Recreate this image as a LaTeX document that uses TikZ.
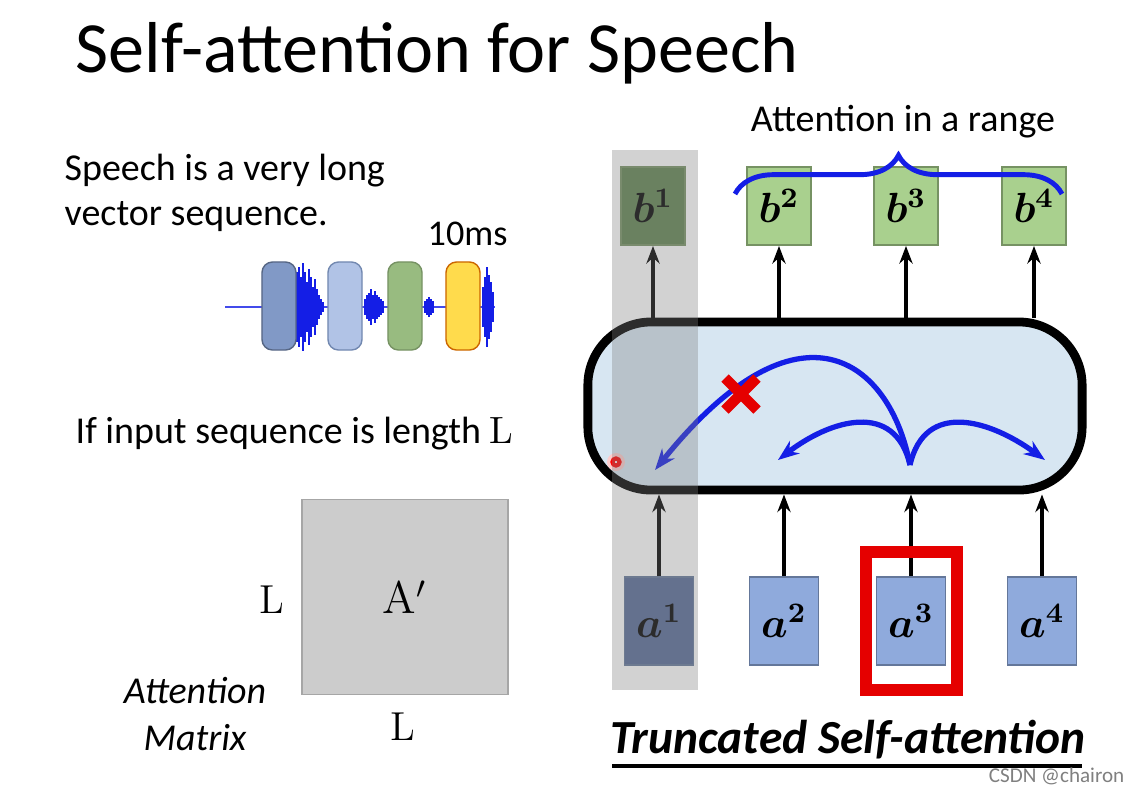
\documentclass[tikz,border=0pt]{standalone}
\usepackage{fontspec}
\setmainfont{Carlito}
\newfontfamily\serifm{Latin Modern Roman}
\usetikzlibrary{decorations.pathreplacing,arrows.meta}
\definecolor{bgreen}{RGB}{169,208,142}
\definecolor{bgreenD}{RGB}{95,130,80}
\definecolor{ablue}{RGB}{143,170,220}
\definecolor{ablueD}{RGB}{85,105,150}
\definecolor{boxblue}{RGB}{215,230,242}
\definecolor{curve}{RGB}{20,30,230}
\tikzset{
 bbox/.style={draw=bgreen!70!black,fill=bgreen,line width=0.5pt},
 abox/.style={draw=ablue!70!black,fill=ablue,line width=0.5pt},
 up/.style={-{Stealth[length=5pt]},line width=1.1pt},
 cv/.style={curve,line width=1.5pt,-{Stealth[length=6pt]}},
 lbl/.style={font=\fontsize{11.5}{12}\selectfont\boldmath},
 txt/.style={font=\fontsize{10.8}{12}\selectfont},
}
\begin{document}
\begin{tikzpicture}[x=0.01cm,y=-0.01cm]
\useasboundingbox (0,0) rectangle (1138,793);
\fill[white] (0,0) rectangle (1138,793);
\node[anchor=base west,font=\fontsize{20.5}{21}\selectfont,inner sep=0] (title) at (75,72) {Self-attention for Speech};
\node[anchor=base west,txt,inner sep=0] (sp) at (64,180) {Speech is a very long};
\node[anchor=base west,txt,inner sep=0] (sp2) at (64,225) {vector sequence.};
\node[anchor=base west,font=\fontsize{10.3}{11}\selectfont,inner sep=0] (ms) at (427,245) {10ms};
% waveform
\draw[curve!80,line width=0.8pt] (225,307) -- (495,307);
\foreach \x/\h in {297/35,299/40,301/30,303/44,305/35,307/25,309/38,311/30,313/20,315/28,317/18,319/12,321/8,323/5,365/8,367/12,369/14,371/18,373/12,375/16,377/12,379/10,381/8,383/6,425/6,427/8,429/10,431/8,433/6,483/20,485/30,487/40,489/32,491/25,493/15} {
  \draw[curve,line width=0.7pt] (\x,307-\h) -- (\x,307+\h);
}
\node[draw=ablue!60!black,fill=ablue!90!black,rounded corners=3pt,minimum width=0.34cm,minimum height=0.88cm,inner sep=0] (w1) at (279,306) {};
\node[draw=ablue!80!black,fill=ablue!70,rounded corners=3pt,minimum width=0.34cm,minimum height=0.88cm,inner sep=0] (w2) at (345,306) {};
\node[draw=bgreen!70!black,fill=bgreen!90!black,rounded corners=3pt,minimum width=0.34cm,minimum height=0.88cm,inner sep=0] (w3) at (405,306) {};
\node[draw=orange!80!black,fill=orange!40!yellow!70,rounded corners=3pt,minimum width=0.34cm,minimum height=0.88cm,inner sep=0] (w4) at (463,306) {};
\node[anchor=base west,txt,inner sep=0] (inp) at (75,443) {If input sequence is length {\serifm L}};
% matrix
\node[draw=gray!70,fill=gray!40,minimum width=2.06cm,minimum height=1.95cm,inner sep=0,font=\fontsize{13}{13}\selectfont\serifm] (A) at (405,597) {A$'$};
\node[font=\fontsize{11.5}{12}\selectfont\serifm] (L1) at (272,600) {L};
\node[font=\fontsize{11.5}{12}\selectfont\serifm] (L2) at (403,727) {L};
\node[txt,font=\fontsize{10.8}{13.5}\selectfont\itshape,align=center] (am) at (195,714) {Attention\\Matrix};
% big box
\node[draw,line width=2.5pt,fill=boxblue,rounded corners=18pt,minimum width=4.94cm,minimum height=1.68cm,inner sep=0] (sa) at (835,406) {};
% b boxes
\node[bbox,fill=bgreenD,minimum width=0.62cm,minimum height=0.78cm,lbl] (b1) at (653,206) {$b^1$};
\node[bbox,minimum width=0.62cm,minimum height=0.78cm,lbl] (b2) at (779,206) {$b^2$};
\node[bbox,minimum width=0.62cm,minimum height=0.78cm,lbl] (b3) at (906,206) {$b^3$};
\node[bbox,minimum width=0.62cm,minimum height=0.78cm,lbl] (b4) at (1034,206) {$b^4$};
% a boxes
\node[abox,fill=ablueD,minimum width=0.62cm,minimum height=0.88cm,lbl] (a1) at (659,621) {$a^1$};
\node[abox,minimum width=0.62cm,minimum height=0.88cm,lbl] (a2) at (784,621) {$a^2$};
\node[abox,minimum width=0.62cm,minimum height=0.88cm,lbl] (a3) at (911,621) {$a^3$};
\node[abox,minimum width=0.62cm,minimum height=0.88cm,lbl] (a4) at (1042,621) {$a^4$};
\foreach \b in {1,2,3,4} {\draw[up] (sa.north -| b\b) -- (b\b.south);}
\foreach \a in {1,2,3,4} {\draw[up] (a\a.north) -- (sa.south -| a\a);}
% curves
\coordinate (src) at (910,465);
\coordinate (t1) at (655,470);
\coordinate (t2) at (778,460);
\coordinate (t4) at (1045,460);
\draw[cv] (src) .. controls (890,360) and (800,290) .. (t1);
\draw[cv] (src) .. controls (895,400) and (830,420) .. (t2);
\draw[cv] (src) .. controls (925,400) and (990,420) .. (t4);
\draw[red!90!black,line width=3pt] (725,378) -- (757,410) (725,410) -- (757,378);
\fill[red!20] (616,462) circle (9);
\draw[red,line width=1.2pt,fill=white] (616,462) circle (3.5);
% gray band
\fill[gray,opacity=0.35] (612,150) rectangle (698,690);
% red highlight
\draw[red!90!black,line width=3.5pt] (866,552) rectangle (957,690);
% brace
\draw[curve,line width=1.4pt,decorate,decoration={brace,amplitude=11pt}] (735,194) -- (1062,194);
\node[txt] (rng) at (903,122) {Attention in a range};
\node[font=\fontsize{13.5}{14}\selectfont\bfseries\itshape] (tr) at (848,740) {Truncated Self-attention};
\draw[line width=1pt] (612,766) -- (1082,766);
\node[anchor=base east,font=\fontsize{6}{6}\selectfont,text=gray,inner sep=0] (wm) at (1125,782) {CSDN @chairon};
\end{tikzpicture}
\end{document}
